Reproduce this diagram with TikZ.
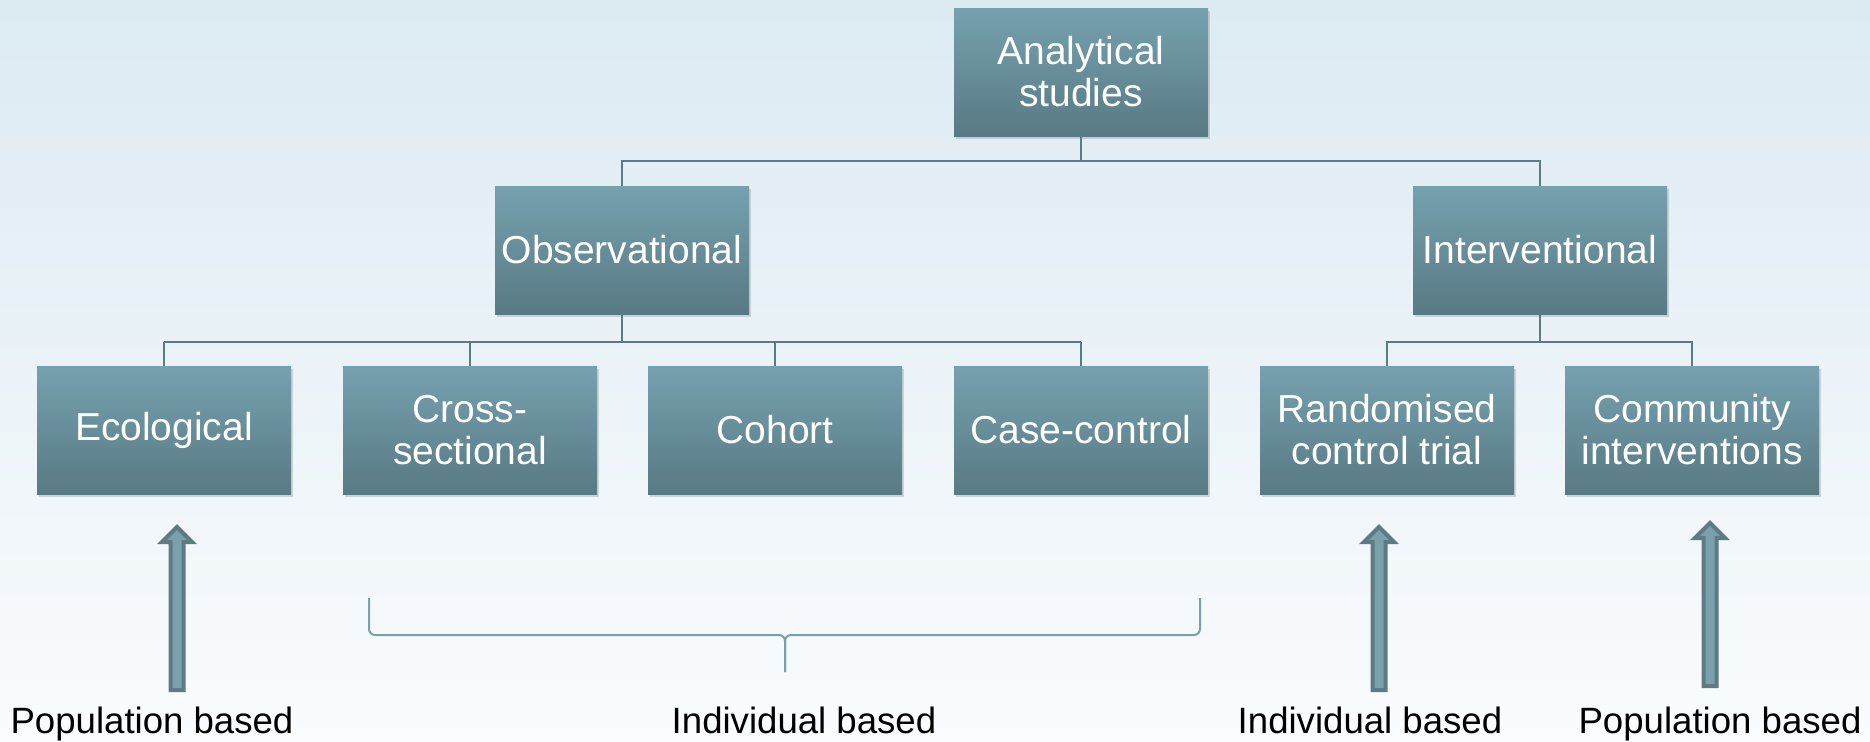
\documentclass[tikz,border=0pt]{standalone}
\usepackage{fontspec}
\setmainfont{Liberation Sans}
\usetikzlibrary{calc}
\usetikzlibrary{shadows}
\definecolor{bgtop}{RGB}{220, 234, 242}
\definecolor{bgbottom}{RGB}{250, 252, 254}
\definecolor{boxtop}{RGB}{118, 161, 175}
\definecolor{boxbottom}{RGB}{88, 122, 132}
\definecolor{slate}{RGB}{94, 123, 132}
\definecolor{seafoam}{RGB}{122, 160, 172}

\tikzset{
    studybox/.style={rectangle, minimum width=127pt, minimum height=64pt, inner sep=2pt,
        top color=boxtop, bottom color=boxbottom, text=white, align=center,
        font=\fontsize{19.5}{21}\selectfont,
        drop shadow={opacity=0.3, shadow xshift=0.8pt, shadow yshift=-1.6pt}},
    tree/.style={draw=slate, line width=1pt},
    basis/.style={font=\fontsize{18.3}{20}\selectfont, anchor=base, text=black},
    brace/.style={draw=seafoam, line width=1pt, rounded corners=3pt},
    uparrow/.pic={
        \draw[draw=slate, fill=seafoam, line width=2pt, line join=miter]
            (-6.5,0) -- (-6.5,-148) -- (-15,-148) -- (0,-163) -- (15,-148) -- (6.5,-148) -- (6.5,0) -- cycle;
    }
}

\begin{document}
\begin{tikzpicture}[x=0.5pt, y=-0.5pt]
            % Background
            \fill[top color=bgtop, bottom color=bgbottom] (0,0) rectangle (1870,741);
            \useasboundingbox (0,0) rectangle (1870,741);
            % Boxes
            \node[studybox] (top)    at (1081, 72)  {Analytical\\studies};
            \node[studybox] (obs)    at (622, 250)  {Observational};
            \node[studybox] (int)    at (1540, 250) {Interventional};
            \node[studybox] (eco)    at (164, 430)  {Ecological};
            \node[studybox] (cross)  at (470, 430)  {Cross-\\sectional};
            \node[studybox] (cohort) at (775, 430)  {Cohort};
            \node[studybox] (case)   at (1081, 430) {Case-control};
            \node[studybox] (rct)    at (1387, 430) {Randomised\\control trial};
            \node[studybox] (comm)   at (1692, 430) {Community\\interventions};
            % Tree connectors
            \draw[tree] (top.south) -- ++(0,25) coordinate (split1);
            \draw[tree] (obs.north) |- (split1) -| (int.north);
            \draw[tree] (obs.south) -- ++(0,28) coordinate (split2);
            \draw[tree] (eco.north |- split2) -- (case.north |- split2);
            \foreach \n in {eco, cross, cohort, case}
                \draw[tree] (\n.north) -- (\n.north |- split2);
            \draw[tree] (int.south) -- ++(0,28) coordinate (split3);
            \draw[tree] (rct.north) |- (split3) -| (comm.north);
            % Block arrows
            \pic at (177, 690)  {uparrow};
            \pic at (1379, 690) {uparrow};
            \pic at (1710, 686) {uparrow};
            % Brace under the individual based designs
            \draw[brace] (369,598) -- (369,635) -- (785,635) -- (785,672);
            \draw[brace] (1200,598) -- (1200,635) -- (785,635) -- (785,672);
            % Labels
            \node[basis] (popleft)  at (152, 733)  {Population based};
            \node[basis] (indmid)   at (804, 733)  {Individual based};
            \node[basis] (indright) at (1370, 733) {Individual based};
            \node[basis] (popright) at (1720, 733) {Population based};
        \end{tikzpicture}
\end{document}
